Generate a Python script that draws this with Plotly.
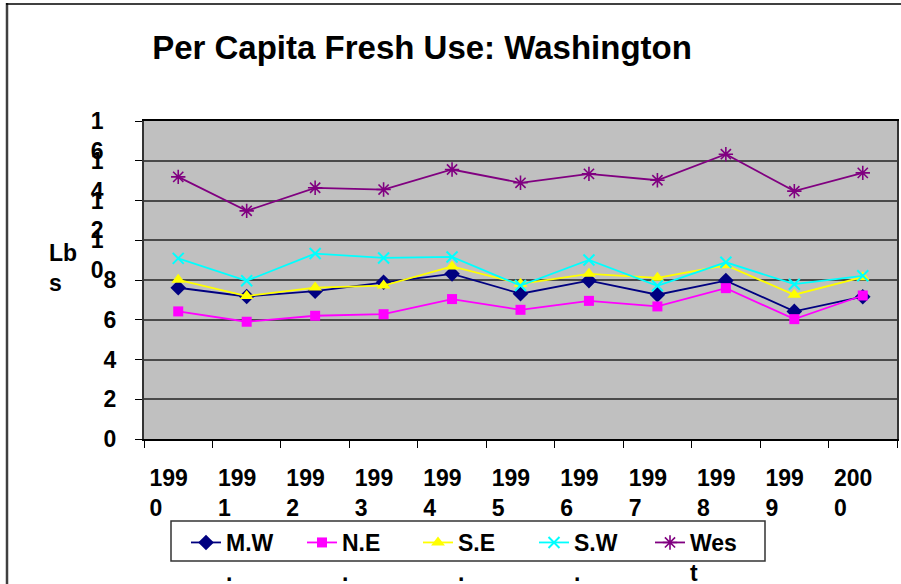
import plotly.graph_objects as go

years = ["1990", "1991", "1992", "1993", "1994", "1995", "1996", "1997", "1998", "1999", "2000"]
year_labels = ["199\u2007\u00a0<br>0\u2007\u2007\u2007\u00a0", "199\u2007\u00a0<br>1\u2007\u2007\u2007\u00a0",
               "199\u2007\u00a0<br>2\u2007\u2007\u2007\u00a0", "199\u2007\u00a0<br>3\u2007\u2007\u2007\u00a0",
               "199\u2007\u00a0<br>4\u2007\u2007\u2007\u00a0", "199\u2007\u00a0<br>5\u2007\u2007\u2007\u00a0",
               "199\u2007\u00a0<br>6\u2007\u2007\u2007\u00a0", "199\u2007\u00a0<br>7\u2007\u2007\u2007\u00a0",
               "199\u2007\u00a0<br>8\u2007\u2007\u2007\u00a0", "199\u2007\u00a0<br>9\u2007\u2007\u2007\u00a0",
               "200\u2007\u00a0<br>0\u2007\u2007\u2007\u00a0"]

mw = [7.61, 7.17, 7.44, 7.89, 8.31, 7.31, 7.97, 7.26, 7.97, 6.42, 7.16]
ne = [6.42, 5.90, 6.20, 6.28, 7.04, 6.50, 6.95, 6.67, 7.59, 6.03, 7.22]
se = [8.01, 7.19, 7.62, 7.72, 8.68, 7.81, 8.31, 8.11, 8.74, 7.26, 8.14]
sw = [9.09, 7.96, 9.33, 9.11, 9.16, 7.72, 9.01, 7.71, 8.89, 7.79, 8.21]
west = [13.19, 11.48, 12.64, 12.55, 13.56, 12.89, 13.34, 13.02, 14.33, 12.47, 13.39]

series_names = ["M.W<br>.", "N.E<br>.", "S.E<br>.", "S.W<br>.", "Wes<br>t"]

y_vals = [0, 2, 4, 6, 8, 10, 12, 14, 16]
y_labels = ["0", "2", "4", "6", "8",
            "\u00a0<br>1\u2007<br>0\u2007", "\u00a0<br>1\u2007<br>2\u2007",
            "\u00a0<br>1\u2007<br>4\u2007", "\u00a0<br>1\u2007<br>6\u2007"]

FONT = "Liberation Sans, Arial, sans-serif"

W, H = 901, 584
L, R, T, B = 144, 4, 121, 145
pw, ph = W - L - R, H - T - B


def px(x):
    return (x - L) / pw


def py(y):
    return (H - B - y) / ph


fig = go.Figure()

fig.add_trace(go.Scatter(x=years, y=mw, name=series_names[0], mode="lines+markers",
                         line=dict(color="#000080", width=1.8),
                         marker=dict(symbol="diamond", size=12, color="#000080")))
fig.add_trace(go.Scatter(x=years, y=ne, name=series_names[1], mode="lines+markers",
                         line=dict(color="#FF00FF", width=1.8),
                         marker=dict(symbol="square", size=10, color="#FF00FF")))
fig.add_trace(go.Scatter(x=years, y=se, name=series_names[2], mode="lines+markers",
                         line=dict(color="#FFFF00", width=1.8),
                         marker=dict(symbol="triangle-up", size=12, color="#FFFF00")))
fig.add_trace(go.Scatter(x=years, y=sw, name=series_names[3], mode="lines+markers",
                         line=dict(color="#00FFFF", width=1.8),
                         marker=dict(symbol="x-thin", size=11, color="#00FFFF",
                                     line=dict(color="#00FFFF", width=2))))
fig.add_trace(go.Scatter(x=years, y=west, name=series_names[4], mode="lines+markers",
                         line=dict(color="#800080", width=1.8),
                         marker=dict(symbol="asterisk-open", size=12, color="#800080",
                                     line=dict(color="#800080", width=1.6))))

fig.update_layout(
    width=W, height=H, autosize=False,
    margin=dict(l=L, r=R, t=T, b=B, pad=0, autoexpand=False),
    paper_bgcolor="white",
    plot_bgcolor="#C0C0C0",
    font=dict(family=FONT, color="black"),
    title=dict(text="<b>Per Capita Fresh Use: Washington</b>",
               font=dict(family=FONT, size=33, color="black"),
               xref="paper", x=px(422), xanchor="center",
               yref="container", y=1 - 47 / H, yanchor="middle"),
    showlegend=True,
    legend=dict(orientation="h", x=px(186), y=py(521), xanchor="left", yanchor="top",
                font=dict(family=FONT, size=23, color="black", weight="bold"),
                valign="top", bgcolor="rgba(0,0,0,0)", borderwidth=0,
                entrywidth=71, entrywidthmode="pixels", itemwidth=30),
    xaxis=dict(type="category", range=[-0.5, 10.5], tickmode="array",
               tickvals=years, ticktext=year_labels, tickson="boundaries",
               ticks="outside", ticklen=7, tickwidth=1, tickcolor="black",
               showline=True, linecolor="black", linewidth=1.5, mirror=True,
               showgrid=False, zeroline=False, ticklabelstandoff=18, automargin=False,
               tickfont=dict(family=FONT, size=23, color="black", weight="bold")),
    yaxis=dict(range=[0, 16], tickmode="array", tickvals=y_vals, ticktext=y_labels,
               ticks="outside", ticklen=7, tickwidth=1, tickcolor="black",
               showline=True, linecolor="#333333", linewidth=2, mirror=True,
               showgrid=True, gridcolor="#4a4a4a", gridwidth=1.6, zeroline=False,
               ticklabelstandoff=14, automargin=False,
               tickfont=dict(family=FONT, size=23, color="black", weight="bold")),
    annotations=[
        dict(text="<b>Lb<br>s</b>", xref="paper", yref="paper", x=px(47), y=py(268),
             xanchor="left", yanchor="middle", align="left", showarrow=False,
             font=dict(family=FONT, size=23, color="black")),
    ],
    shapes=[
        dict(type="rect", xref="paper", yref="paper", x0=px(171), x1=px(765),
             y0=py(561), y1=py(521), line=dict(color="#333333", width=1.5)),
        dict(type="line", xref="paper", yref="paper", x0=px(7), x1=px(7),
             y0=py(3), y1=py(600), line=dict(color="#404040", width=2.5)),
        dict(type="line", xref="paper", yref="paper", x0=px(6), x1=px(910),
             y0=py(4), y1=py(4), line=dict(color="black", width=1.5)),
    ],
)

fig.write_html("out.html", config={"displayModeBar": False},
               post_script="document.body.style.margin='0px';document.body.style.overflow='hidden';")
